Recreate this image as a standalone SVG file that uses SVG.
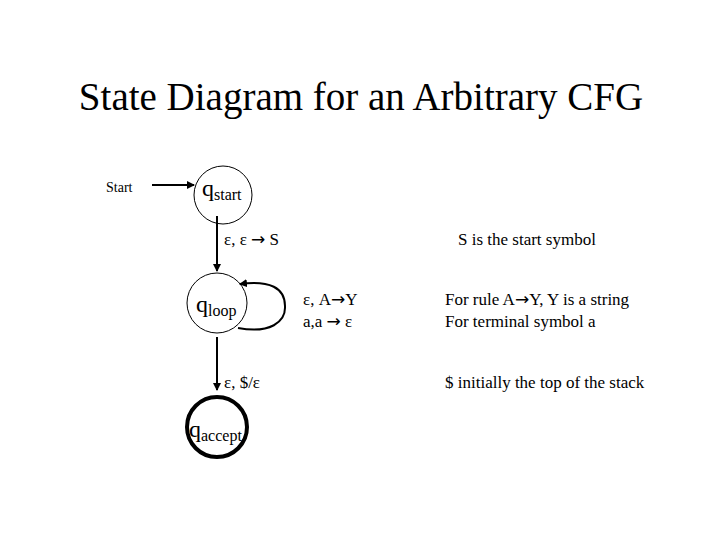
<svg xmlns="http://www.w3.org/2000/svg" width="720" height="540" viewBox="0 0 720 540" font-family="Liberation Serif, Times New Roman, serif">
<style>
text{font-family:'Liberation Serif','Times New Roman',serif;fill:#000}
.n{fill:#fff;stroke:#000;stroke-width:1}
.e{fill:none;stroke:#000;stroke-width:2}
.l{font-size:17px}
.ar{font-family:'DejaVu Sans',sans-serif;font-size:17px}
</style>
<defs><marker id="a" markerWidth="8" markerHeight="8" refX="7" refY="4" orient="auto" markerUnits="userSpaceOnUse"><path d="M0,0L8,4L0,8z"/></marker></defs>
<rect width="720" height="540" fill="#fff"/>
<text x="361" y="110" font-size="39" text-anchor="middle">State Diagram for an Arbitrary CFG</text>
<g id="start"><text x="106" y="192" font-size="14">Start</text></g>
<g id="qstart"><circle class="n" cx="223" cy="195" r="29"/><text x="202" y="196" font-size="24">q<tspan font-size="16" dy="4">start</tspan></text></g>
<g id="qloop"><circle class="n" cx="217" cy="303" r="30"/><text x="196" y="312" font-size="24">q<tspan font-size="16" dy="4">loop</tspan></text></g>
<g id="qaccept"><circle cx="217" cy="427" r="30" fill="#fff" stroke="#000" stroke-width="4"/><text x="189" y="437" font-size="24">q<tspan font-size="16" dy="4">accept</tspan></text></g>
<g id="edges">
<line class="e" x1="152" y1="185" x2="194" y2="185" marker-end="url(#a)"/>
<line class="e" x1="217" y1="216" x2="217" y2="271" marker-end="url(#a)"/>
<path class="e" d="M238,328C270,334 286,322 285,306C285,288 270,280 240,284" marker-end="url(#a)"/>
<line class="e" x1="217" y1="337" x2="217" y2="390" marker-end="url(#a)"/>
</g>
<g id="labels" class="l">
<text x="224" y="245">ε, ε <tspan class="ar">→</tspan> S</text>
<text x="303" y="305">ε, A<tspan class="ar">→</tspan>Y</text>
<text x="303" y="327">a,a <tspan class="ar">→</tspan> ε</text>
<text x="224" y="388">ε, $/ε</text>
<text x="458" y="245">S is the start symbol</text>
<text x="445" y="305">For rule A<tspan class="ar">→</tspan>Y, Y is a string</text>
<text x="445" y="327">For terminal symbol a</text>
<text x="445" y="388">$ initially the top of the stack</text>
</g>
</svg>
